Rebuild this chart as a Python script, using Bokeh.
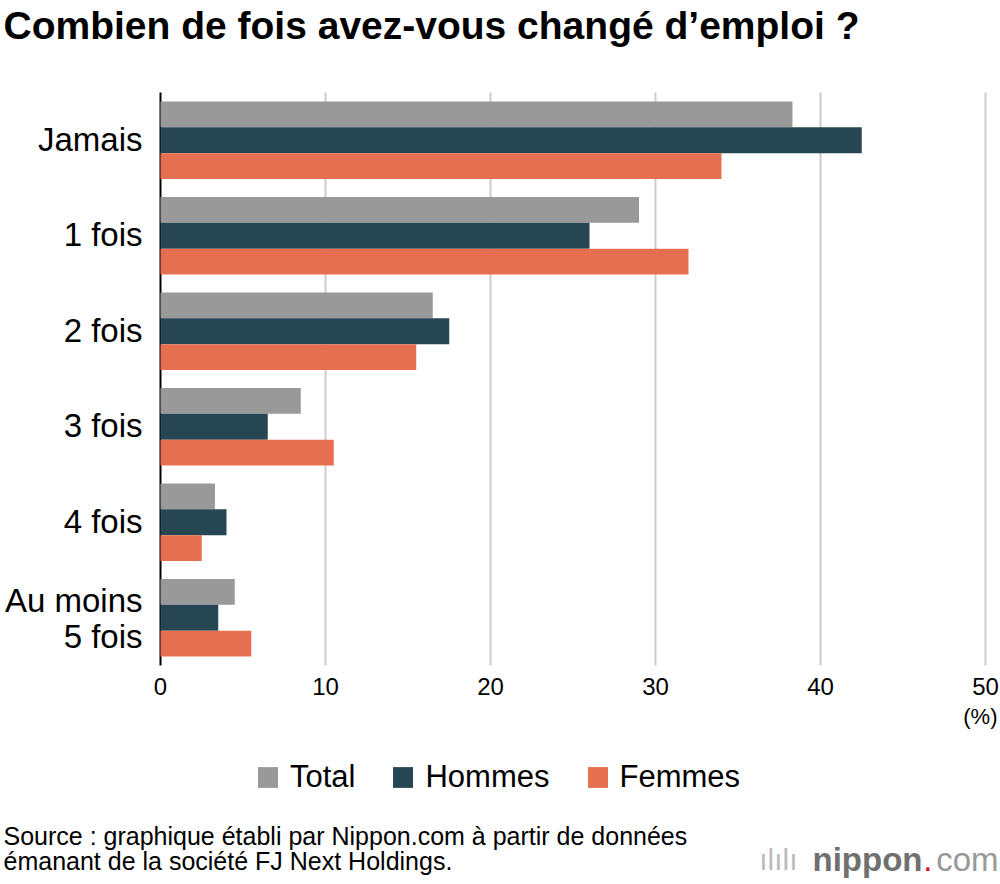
from bokeh.plotting import figure
from bokeh.models import Range1d, Label, Legend, LegendItem
from bokeh.embed import file_html
from bokeh.resources import INLINE
from bokeh.core.properties import value

categories = ["Jamais", "1 fois", "2 fois", "3 fois", "4 fois", "Au moins 5 fois"]
cat_labels = [["Jamais"], ["1 fois"], ["2 fois"], ["3 fois"], ["4 fois"], ["Au moins", "5 fois"]]
total = [38.3, 29.0, 16.5, 8.5, 3.3, 4.5]
hommes = [42.5, 26.0, 17.5, 6.5, 4.0, 3.5]
femmes = [34.0, 32.0, 15.5, 10.5, 2.5, 5.5]
series = ["Total", "Hommes", "Femmes"]
colors = ["#999999", "#264653", "#e76f51"]
x_ticks = [0, 10, 20, 30, 40, 50]

FONT = "Liberation Sans"
W, H = 1000, 884
# plot area in pixels (left, right, top, bottom)
PL, PR, PT, PB = 160, 985, 92, 665
XMAX = 50
n = len(categories)
xs = XMAX / (PR - PL)
ys = n / (PB - PT)

p = figure(width=W, height=H, output_backend="svg", toolbar_location=None,
           x_range=Range1d(-PL * xs, XMAX + (W - PR) * xs),
           y_range=Range1d(-(H - PB) * ys, n + PT * ys),
           min_border=0)
p.xaxis.visible = False
p.yaxis.visible = False
p.grid.visible = False
p.outline_line_color = None
p.background_fill_color = "white"
p.border_fill_color = "white"

ypos = [n - i - 0.5 for i in range(n)]

# grid lines and axis line
p.segment(x0=x_ticks[1:], x1=x_ticks[1:], y0=0, y1=n, line_color="#cccccc", line_width=2)
p.segment(x0=[0], x1=[0], y0=[0], y1=[n], line_color="black", line_width=2)

bh = 0.27
offsets = [bh, 0.0, -bh]
rends = []
for vals, c, off in zip([total, hommes, femmes], colors, offsets):
    r = p.hbar(y=[y + off for y in ypos], right=vals, left=0, height=bh,
               fill_color=c, line_color=None)
    rends.append(r)

# x tick labels
p.text(x=x_ticks, y=[0] * len(x_ticks), text=[str(t) for t in x_ticks],
       text_font=value(FONT), text_font_size="24px", text_align="center",
       text_baseline="middle", y_offset=21, text_color="black")

# category labels
CAT_SIZE = "33px"
single_y = [y for y, l in zip(ypos, cat_labels) if len(l) == 1]
single_t = [l[0] for l in cat_labels if len(l) == 1]
p.text(x=[0] * len(single_y), y=single_y, text=single_t, x_offset=-18, y_offset=-1,
       text_font=value(FONT), text_font_size=CAT_SIZE, text_align="right",
       text_baseline="middle", text_color="black")
for y, l in zip(ypos, cat_labels):
    if len(l) == 2:
        p.text(x=[0], y=[y], text=[l[0]], x_offset=-18, y_offset=-17,
               text_font=value(FONT), text_font_size=CAT_SIZE, text_align="right",
               text_baseline="middle", text_color="black")
        p.text(x=[0], y=[y], text=[l[1]], x_offset=-18, y_offset=19,
               text_font=value(FONT), text_font_size=CAT_SIZE, text_align="right",
               text_baseline="middle", text_color="black")

def lab(x, y_page, text, size, align="left", color="black", bold=False, baseline="middle"):
    p.add_layout(Label(x=x, y=H - y_page, x_units="screen", y_units="screen",
                       text=text, text_font=FONT, text_font_size=size,
                       text_align=align, text_baseline=baseline, text_color=color,
                       text_font_style="bold" if bold else "normal"))

lab(3, 25, "Combien de fois avez-vous changé d’emploi ?", "39px", bold=True)
lab(997, 716, "(%)", "22px", align="right")

legend = Legend(items=[LegendItem(label=s, renderers=[r]) for s, r in zip(series, rends)],
                orientation="horizontal", location=(255, H - 795),
                glyph_width=25, glyph_height=26, label_text_font=FONT,
                label_text_font_size="31px", label_text_color="black",
                spacing=35, padding=0, margin=0, border_line_color=None,
                background_fill_alpha=0, label_standoff=10, label_height=26)
p.add_layout(legend)

lab(3, 835, "Source : graphique établi par Nippon.com à partir de données", "25px")
lab(3, 860, "émanant de la société FJ Next Holdings.", "25px")
lab(998, 859, "com", "33px", align="right", color="#999999")
lab(932, 859, ".", "33px", align="right", color="#e60012")
lab(922, 859, "nippon", "33px", align="right", color="#707070", bold=True)
lab(797, 859, "ılılı", "30px", align="right", color="#bbbbbb")

open("out.html", "w").write(file_html(p, INLINE))
